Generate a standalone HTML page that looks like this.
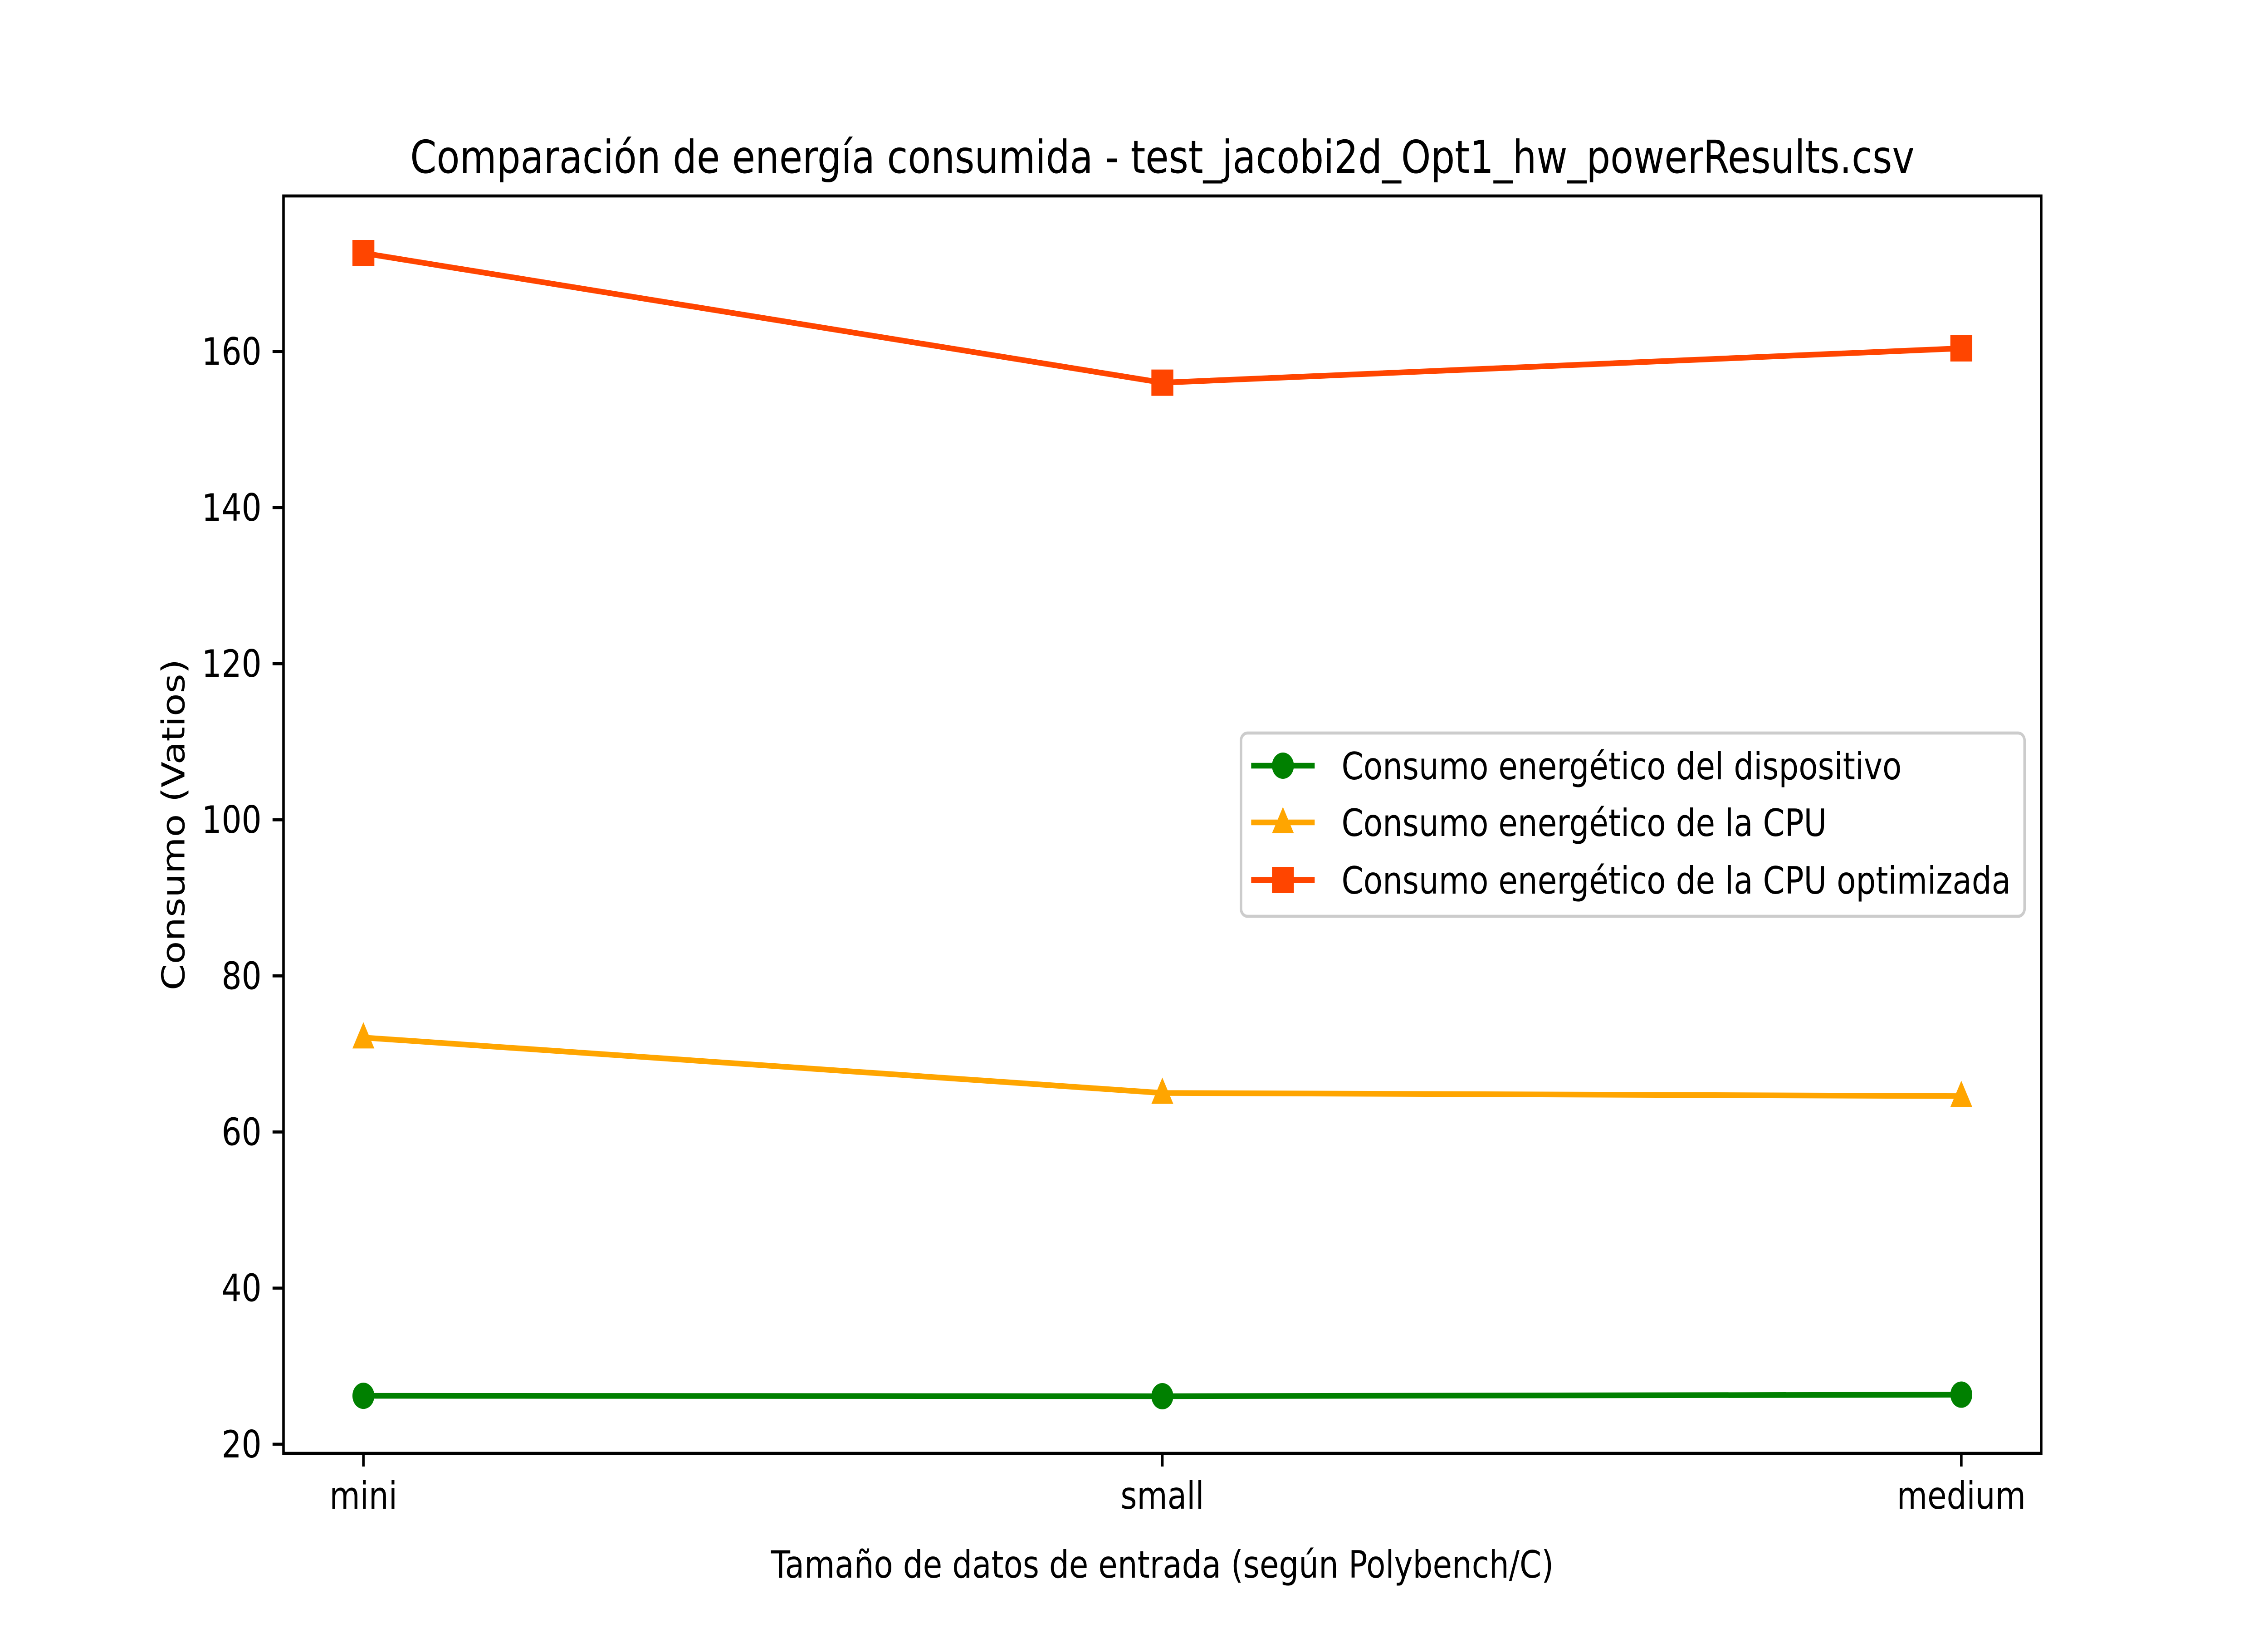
<!DOCTYPE html>
<html><head><meta charset="utf-8"><style>
html,body{margin:0;padding:0;background:#fff;width:100vw;height:100vh;overflow:hidden;}
svg{display:block;width:100vw;height:100vh;font-family:"DejaVu Sans","Liberation Sans",sans-serif;}
</style></head><body>
<svg id="chart" viewBox="0 0 6000 3600" preserveAspectRatio="none" xmlns="http://www.w3.org/2000/svg">
<rect x="0" y="0" width="6000" height="3600" fill="#fff"/>
<text x="3075" y="381" font-size="100" text-anchor="middle">Comparación de energía consumida - test_jacobi2d_Opt1_hw_powerResults.csv</text>
<g id="plot"></g>
<text x="3075" y="3478" font-size="83" text-anchor="middle">Tamaño de datos de entrada (según Polybench/C)</text>
<text transform="translate(488,1818) rotate(-90)" font-size="83" text-anchor="middle">Consumo (Vatios)</text>
</svg>
<script>
const categories = ["mini", "small", "medium"];
const deviceValues = [26.2, 26.15, 26.35];
const cpuValues = [72.1, 65.0, 64.6];
const cpuOptValues = [172.6, 156.0, 160.4];
const yTicks = [20, 40, 60, 80, 100, 120, 140, 160];
const seriesNames = ["Consumo energético del dispositivo", "Consumo energético de la CPU", "Consumo energético de la CPU optimizada"];

const NS = "http://www.w3.org/2000/svg";
const L = 750, R = 5400, T = 432, B = 3204;
const all = deviceValues.concat(cpuValues, cpuOptValues);
const dmin = Math.min(...all), dmax = Math.max(...all);
const pad = (dmax - dmin) * 0.05;
const y0 = dmin - pad, y1 = dmax + pad;
const x0 = -0.1, x1 = categories.length - 1 + 0.1;
function xs(i){ return L + (i - x0) / (x1 - x0) * (R - L); }
function ys(v){ return B - (v - y0) / (y1 - y0) * (B - T); }
const plot = document.getElementById("plot");
function mk(tag, attrs, parent){
  const e = document.createElementNS(NS, tag);
  for (const k in attrs) e.setAttribute(k, attrs[k]);
  (parent || plot).appendChild(e);
  return e;
}
yTicks.forEach(t => {
  const y = ys(t);
  const tk = mk("line", {x1: L - 29, x2: L, y1: y, y2: y, stroke: "#000", "stroke-width": 6.7});
  
  
  const lb = mk("text", {x: L - 58, y: y + 29, "font-size": 83, "text-anchor": "end"});
  lb.textContent = t;
  
  
});
categories.forEach((c, i) => {
  const x = xs(i);
  const tk = mk("line", {x1: x, x2: x, y1: B, y2: B + 29, stroke: "#000", "stroke-width": 6.7});
  
  
  const lb = mk("text", {x: x, y: 3326, "font-size": 83, "text-anchor": "middle"});
  lb.textContent = c;
  
  
});
function marker(kind, cx, cy, color, parent){
  let m;
  if (kind === "o") m = mk("circle", {cx: cx, cy: cy, r: 29, fill: color}, parent);
  else if (kind === "^") m = mk("polygon", {points: `${cx},${cy-34} ${cx-29},${cy+24} ${cx+29},${cy+24}`, fill: color}, parent);
  else m = mk("rect", {x: cx - 29, y: cy - 29, width: 58, height: 58, fill: color}, parent);
  return m;
}
const series = [
  {vals: deviceValues, color: "#008000", m: "o", name: "device-series"},
  {vals: cpuValues, color: "#ffa500", m: "^", name: "cpu-series"},
  {vals: cpuOptValues, color: "#ff4500", m: "s", name: "cpu-optimized-series"}
];
series.forEach(s => {
  const g = mk("g", {});
  
  
  const pts = s.vals.map((v, i) => xs(i) + "," + ys(v)).join(" ");
  const pl = mk("polyline", {points: pts, fill: "none", stroke: s.color, "stroke-width": 12.5, "stroke-linejoin": "round"}, g);
  
  
  s.vals.forEach((v, i) => {
    const m = marker(s.m, xs(i), ys(v), s.color, g);
    
    
  });
});
const frame = mk("rect", {x: L, y: T, width: R - L, height: B - T, fill: "none", stroke: "#000", "stroke-width": 6.7});


const lg = mk("g", {});


const lbox = mk("rect", {x: 3283, y: 1616, width: 2073, height: 404, rx: 17, fill: "#fff", "fill-opacity": 0.8, stroke: "#cccccc", "stroke-width": 6.7}, lg);


const rowY = [1688, 1813, 1940];
series.forEach((s, k) => {
  const e = mk("g", {}, lg);
  
  
  mk("line", {x1: 3310, x2: 3478, y1: rowY[k], y2: rowY[k], stroke: s.color, "stroke-width": 12.5}, e);
  marker(s.m, 3394, rowY[k], s.color, e);
  const t = mk("text", {x: 3549, y: rowY[k] + 30, "font-size": 83}, e);
  t.textContent = seriesNames[k];
});
</script>
</body></html>
